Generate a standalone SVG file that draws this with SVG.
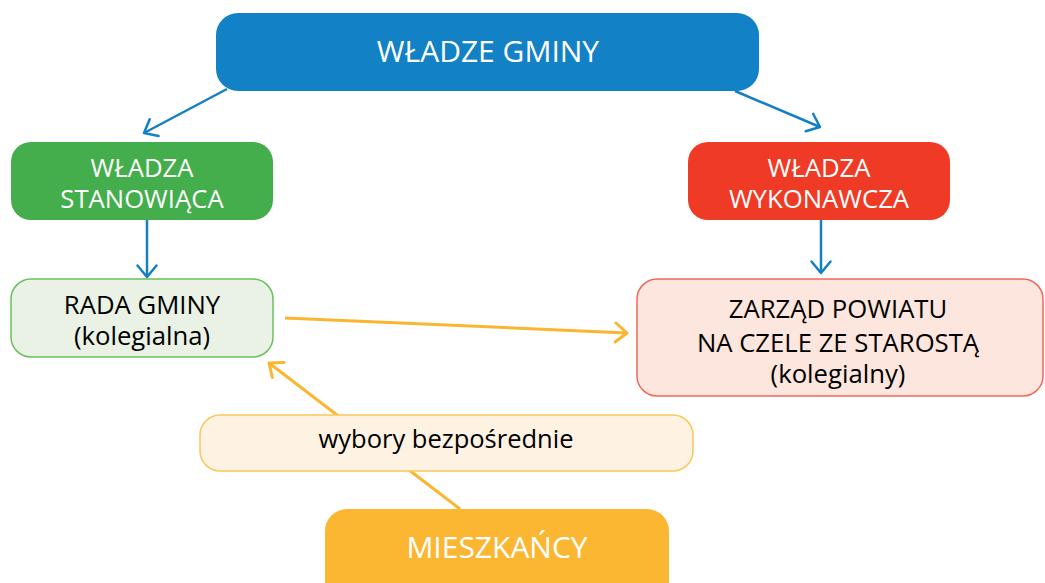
<svg xmlns="http://www.w3.org/2000/svg" width="1045" height="583" viewBox="0 0 1045 583">
  <defs>
    <style>
      text { font-family: "Open Sans", "Noto Sans", "Liberation Sans", sans-serif; text-anchor: middle; }
      .light { fill: #ffffff; }
      .dark { fill: #000000; }
      .big { font-size: 30px; }
      .mid { font-size: 25.7px; }
      .small { font-size: 25.5px; }
      .link-blue { fill: none; stroke: #1380C4; stroke-width: 2.5; }
      .link-gold { fill: none; stroke: #FBB630; stroke-width: 3; }
    </style>
    <marker id="head-blue" markerUnits="userSpaceOnUse" markerWidth="30" markerHeight="30" viewBox="-15 -15 30 30" refX="0" refY="0" orient="auto" overflow="visible">
      <path d="M -11.5 -9.5 L 0 0 L -11.5 9.5" fill="none" stroke="#1380C4" stroke-width="2.5" stroke-linecap="round" stroke-linejoin="round"/>
    </marker>
    <marker id="head-gold" markerUnits="userSpaceOnUse" markerWidth="30" markerHeight="30" viewBox="-15 -15 30 30" refX="0" refY="0" orient="auto" overflow="visible">
      <path d="M -11.5 -9.5 L 0 0 L -11.5 9.5" fill="none" stroke="#FBB630" stroke-width="3" stroke-linecap="round" stroke-linejoin="round"/>
    </marker>
  </defs>

  <rect width="1045" height="583" fill="#ffffff"/>

  <!-- connectors -->
  <g id="connectors">
    <line class="link-blue" x1="227" y1="89" x2="144" y2="133" marker-end="url(#head-blue)"/>
    <line class="link-blue" x1="735" y1="91" x2="820" y2="127" marker-end="url(#head-blue)"/>
    <line class="link-blue" x1="147" y1="220" x2="147" y2="277" marker-end="url(#head-blue)"/>
    <line class="link-blue" x1="821" y1="220" x2="821" y2="273" marker-end="url(#head-blue)"/>
    <line class="link-gold" x1="285" y1="318" x2="627" y2="333" marker-end="url(#head-gold)"/>
    <line class="link-gold" x1="460" y1="509" x2="269" y2="363" marker-end="url(#head-gold)"/>
  </g>

  <!-- top: municipal authorities -->
  <g id="wladze-gminy">
    <rect x="216" y="13" width="543" height="78" rx="22" fill="#1281C5"/>
    <text class="light big" x="488" y="62">WŁADZE GMINY</text>
  </g>

  <g id="wladza-stanowiaca">
    <rect x="11" y="142" width="262" height="78" rx="20" fill="#43AE4B"/>
    <text class="light mid" x="142" y="177">WŁADZA</text>
    <text class="light mid" x="142" y="208">STANOWIĄCA</text>
  </g>

  <g id="wladza-wykonawcza">
    <rect x="688" y="142" width="262" height="78" rx="20" fill="#EF3A26"/>
    <text class="light mid" x="819" y="177">WŁADZA</text>
    <text class="light mid" x="819" y="208">WYKONAWCZA</text>
  </g>

  <g id="rada-gminy">
    <rect x="11" y="279" width="262" height="78" rx="20" fill="#E9F2E4" stroke="#6ABF5E" stroke-width="1.5"/>
    <text class="dark mid" x="142" y="314">RADA GMINY</text>
    <text class="dark mid" x="142" y="345">(kolegialna)</text>
  </g>

  <g id="zarzad-powiatu">
    <rect x="637" y="279" width="406" height="117" rx="20" fill="#FDE6DD" stroke="#EF6A59" stroke-width="1.5"/>
    <text class="dark mid" x="838" y="318">ZARZĄD POWIATU</text>
    <text class="dark mid" x="838" y="352">NA CZELE ZE STAROSTĄ</text>
    <text class="dark mid" x="838" y="383">(kolegialny)</text>
  </g>

  <g id="wybory">
    <rect x="200" y="415" width="493" height="56" rx="20" fill="#FEF3E3" stroke="#FAC759" stroke-width="1.5"/>
    <text class="dark small" x="446" y="448">wybory bezpośrednie</text>
  </g>

  <g id="mieszkancy">
    <rect x="325" y="509" width="344" height="95" rx="22" fill="#FBB731"/>
    <text class="light big" x="497" y="558">MIESZKAŃCY</text>
  </g>
</svg>
